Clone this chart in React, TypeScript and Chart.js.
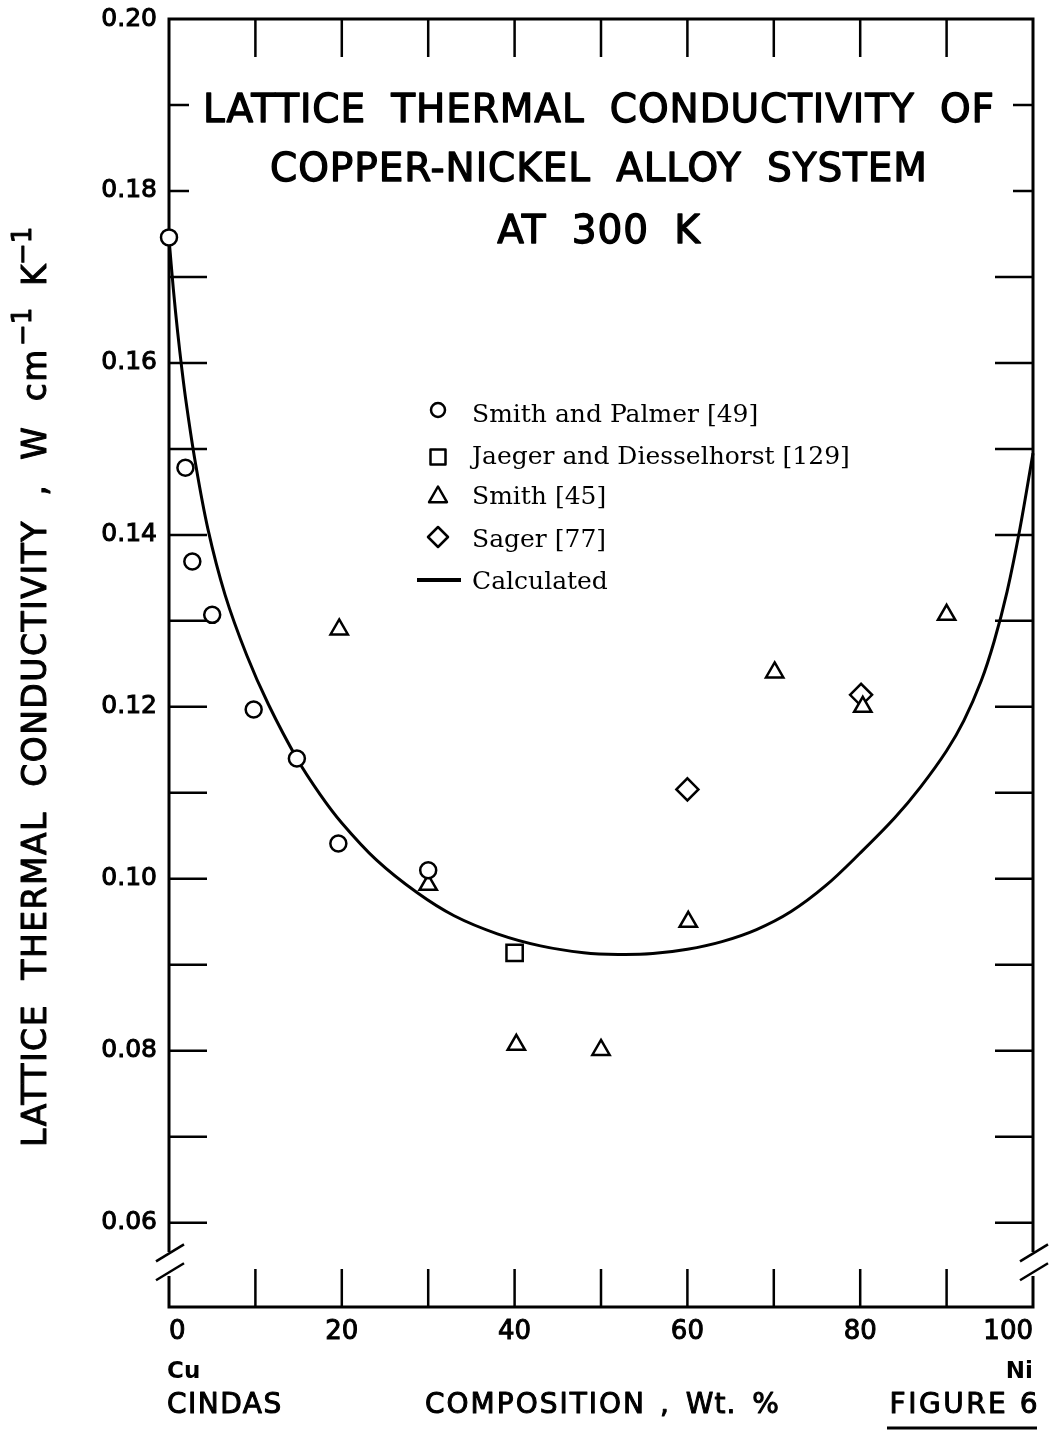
import React, { useEffect, useRef } from 'react';
import { Chart, registerables } from 'chart.js';

Chart.register(...registerables);

// ---------- data ----------
const SMITH_PALMER_X = [0, 1.9, 2.7, 5, 9.8, 14.8, 19.6, 30];
const SMITH_PALMER_Y = [0.1746, 0.1478, 0.1369, 0.1307, 0.1197, 0.114, 0.1041, 0.101];

const JAEGER_X = [40];
const JAEGER_Y = [0.0914];

const SMITH_X = [19.7, 30, 40.2, 50, 60.1, 70.1, 80.3, 90];
const SMITH_Y = [0.129, 0.0993, 0.0807, 0.0801, 0.095, 0.124, 0.12, 0.1307];

const SAGER_X = [60, 80.1];
const SAGER_Y = [0.1104, 0.1214];

const CALC_X = [0, 0.5, 1, 1.5, 2, 3, 4.5, 6.5, 9, 11.5, 14.8, 17.5, 20, 24, 28.7, 33, 38, 43, 48, 52, 56, 60, 64, 68, 72, 76, 80, 84, 87, 90, 92, 94, 95.5, 97, 98.5, 100];
const CALC_Y = [0.1745, 0.1686, 0.1636, 0.1592, 0.1553, 0.1487, 0.1407, 0.133, 0.126, 0.1203, 0.114, 0.1098, 0.1065, 0.1022, 0.0984, 0.0957, 0.0936, 0.0922, 0.0914, 0.0912, 0.0913, 0.0918, 0.0927, 0.0941, 0.0962, 0.0992, 0.103, 0.1071, 0.1107, 0.1149, 0.1184, 0.1230, 0.1276, 0.1334, 0.1408, 0.1495];

const X_LABEL_TICKS = [0, 20, 40, 60, 80, 100];
const X_MARK_TICKS = [10, 20, 30, 40, 50, 60, 70, 80, 90];
const Y_TICKS = [0.06, 0.07, 0.08, 0.09, 0.1, 0.11, 0.12, 0.13, 0.14, 0.15, 0.16, 0.17, 0.18, 0.19, 0.2];
const Y_LABEL_TICKS = [0.06, 0.08, 0.1, 0.12, 0.14, 0.16, 0.18, 0.2];
const Y_MARK_TICKS = [0.06, 0.07, 0.08, 0.09, 0.1, 0.11, 0.12, 0.13, 0.14, 0.15, 0.16, 0.17, 0.18, 0.19];

const TITLE_LINES = ['LATTICE THERMAL CONDUCTIVITY OF', 'COPPER-NICKEL ALLOY SYSTEM', 'AT 300 K'];
const Y_TITLE_MAIN = 'LATTICE THERMAL CONDUCTIVITY , W cm';
const Y_TITLE_K = 'K';
const Y_TITLE_SUP = '\u22121';
const LABEL_CU = 'Cu';
const LABEL_NI = 'Ni';
const LABEL_CINDAS = 'CINDAS';
const LABEL_COMPOSITION = 'COMPOSITION';
const LABEL_UNIT = ', Wt. %';
const LABEL_FIGURE = 'FIGURE 6';

const SERIES_NAMES = ['Smith and Palmer [49]', 'Jaeger and Diesselhorst [129]', 'Smith [45]', 'Sager [77]', 'Calculated'];

const Y_MIN = 0.0502;
const Y_MAX = 0.2;
const BREAK_GAP = [0.0538, 0.0566];
const BREAK_MARKS = [0.0543, 0.0565];

const SANS = '"DejaVu Sans"';
const SERIF = '"DejaVu Serif"';

const pts = (xs: number[], ys: number[]) => xs.map((x, i) => ({ x, y: ys[i] }));

function drawMarker(ctx: CanvasRenderingContext2D, style: string, x: number, y: number, r: number) {
  ctx.beginPath();
  if (style === 'circle') {
    ctx.arc(x, y, r, 0, Math.PI * 2);
  } else if (style === 'rect') {
    ctx.rect(x - r, y - r, 2 * r, 2 * r);
  } else if (style === 'triangle') {
    ctx.moveTo(x, y - r);
    ctx.lineTo(x + r * 1.05, y + r * 0.85);
    ctx.lineTo(x - r * 1.05, y + r * 0.85);
    ctx.closePath();
  } else if (style === 'rectRot') {
    ctx.moveTo(x, y - r);
    ctx.lineTo(x + r, y);
    ctx.lineTo(x, y + r);
    ctx.lineTo(x - r, y);
    ctx.closePath();
  }
  ctx.fillStyle = '#fff';
  ctx.fill();
  ctx.stroke();
}

function boldText(ctx: CanvasRenderingContext2D, t: string, x: number, y: number, w = 0.9) {
  ctx.lineWidth = w;
  ctx.lineJoin = 'round';
  ctx.fillText(t, x, y);
  ctx.strokeText(t, x, y);
}

const framePlugin = {
  id: 'frame',
  beforeDatasetsDraw(chart: any) {
    const { ctx, chartArea } = chart;
    const xs = chart.scales.x;
    const ys = chart.scales.y;
    const { left, right, top, bottom } = chartArea;
    ctx.save();
    ctx.strokeStyle = '#000';
    ctx.lineCap = 'butt';
    // ticks
    ctx.lineWidth = 2.5;
    X_MARK_TICKS.forEach((v) => {
      const px = xs.getPixelForValue(v);
      ctx.beginPath();
      ctx.moveTo(px, top);
      ctx.lineTo(px, top + 38);
      ctx.moveTo(px, bottom);
      ctx.lineTo(px, bottom - 38);
      ctx.stroke();
    });
    Y_MARK_TICKS.forEach((v) => {
      const py = ys.getPixelForValue(v);
      const len = v >= 0.175 ? 20 : 38;
      ctx.beginPath();
      ctx.moveTo(left, py);
      ctx.lineTo(left + len, py);
      ctx.moveTo(right, py);
      ctx.lineTo(right - len, py);
      ctx.stroke();
    });
    // frame
    ctx.lineWidth = 3;
    const gTop = ys.getPixelForValue(BREAK_GAP[1]);
    const gBot = ys.getPixelForValue(BREAK_GAP[0]);
    ctx.beginPath();
    ctx.moveTo(left, gTop);
    ctx.lineTo(left, top);
    ctx.lineTo(right, top);
    ctx.lineTo(right, gTop);
    ctx.moveTo(left, gBot);
    ctx.lineTo(left, bottom);
    ctx.lineTo(right, bottom);
    ctx.lineTo(right, gBot);
    ctx.stroke();
    // break marks
    ctx.lineWidth = 2.5;
    BREAK_MARKS.forEach((v) => {
      const py = ys.getPixelForValue(v);
      [left + 1, right + 1].forEach((cx) => {
        ctx.beginPath();
        ctx.moveTo(cx - 14, py + 8.5);
        ctx.lineTo(cx + 14, py - 8.5);
        ctx.stroke();
      });
    });
    ctx.restore();
  },
  afterDraw(chart: any) {
    const { ctx, chartArea } = chart;
    const { left, right } = chartArea;
    ctx.save();
    ctx.fillStyle = '#000';
    ctx.strokeStyle = '#000';
    const cx = (left + right) / 2 - 2;

    // title
    ctx.font = `39px ${SANS}`;
    ctx.textAlign = 'center';
    ctx.textBaseline = 'alphabetic';
    (ctx as any).wordSpacing = '12px';
    (ctx as any).letterSpacing = '0.9px';
    const baselines = [122, 181, 243];
    TITLE_LINES.forEach((t, i) => boldText(ctx, t, cx, baselines[i], 1.3));
    (ctx as any).wordSpacing = '0px';
    (ctx as any).letterSpacing = '0px';

    // legend
    const styles = ['circle', 'rect', 'triangle', 'rectRot', 'line'];
    const sizes = [7, 7.5, 8.5, 10, 0];
    const rowsY = [415, 457, 497, 540, 582];
    const markY = [410, 457, 495, 537, 580];
    ctx.textAlign = 'left';
    ctx.textBaseline = 'middle';
    ctx.font = `25px ${SERIF}`;
    SERIES_NAMES.forEach((name, i) => {
      ctx.lineWidth = 2.5;
      if (styles[i] === 'line') {
        ctx.lineWidth = 4;
        ctx.beginPath();
        ctx.moveTo(417, markY[i]);
        ctx.lineTo(461, markY[i]);
        ctx.stroke();
      } else {
        drawMarker(ctx, styles[i], 438, markY[i], sizes[i]);
      }
      ctx.fillStyle = '#000';
      ctx.fillText(name, 472, rowsY[i]);
    });

    // y-axis title
    ctx.save();
    ctx.translate(46, 1147);
    ctx.rotate(-Math.PI / 2);
    ctx.textAlign = 'left';
    ctx.textBaseline = 'alphabetic';
    ctx.font = `33px ${SANS}`;
    (ctx as any).letterSpacing = '0px';
    (ctx as any).wordSpacing = '0px';
    const natural = ctx.measureText(Y_TITLE_MAIN).width;
    const nChars = Y_TITLE_MAIN.length;
    const nSpaces = Y_TITLE_MAIN.split(' ').length - 1;
    const target = 799;
    const ls = 1.5;
    const ws = Math.max(0, (target - natural - ls * nChars) / nSpaces);
    (ctx as any).letterSpacing = `${ls}px`;
    (ctx as any).wordSpacing = `${ws}px`;
    boldText(ctx, Y_TITLE_MAIN, 0, 0, 1);
    (ctx as any).letterSpacing = '0px';
    (ctx as any).wordSpacing = '0px';
    ctx.font = `26px ${SANS}`;
    boldText(ctx, Y_TITLE_SUP, target + 2, -15, 1);
    ctx.font = `33px ${SANS}`;
    boldText(ctx, Y_TITLE_K, 861, 0, 1);
    ctx.font = `26px ${SANS}`;
    boldText(ctx, Y_TITLE_SUP, 882, -15, 1);
    ctx.restore();

    // bottom labels
    ctx.textBaseline = 'alphabetic';
    ctx.font = `bold 23px ${SANS}`;
    ctx.textAlign = 'left';
    ctx.fillText(LABEL_CU, 167, 1378);
    ctx.textAlign = 'right';
    ctx.fillText(LABEL_NI, 1033, 1378);

    ctx.font = `28px ${SANS}`;
    ctx.textAlign = 'left';
    (ctx as any).letterSpacing = '1.5px';
    boldText(ctx, LABEL_CINDAS, 167, 1413, 1);
    (ctx as any).letterSpacing = '2px';
    boldText(ctx, LABEL_COMPOSITION, 425, 1413, 1);
    (ctx as any).letterSpacing = '1px';
    (ctx as any).wordSpacing = '6px';
    boldText(ctx, LABEL_UNIT, 660, 1413, 1);
    (ctx as any).wordSpacing = '0px';
    (ctx as any).letterSpacing = '2.5px';
    ctx.textAlign = 'right';
    boldText(ctx, LABEL_FIGURE, 1040, 1413, 1);
    (ctx as any).letterSpacing = '0px';
    ctx.lineWidth = 3;
    ctx.beginPath();
    ctx.moveTo(887, 1428);
    ctx.lineTo(1037, 1428);
    ctx.stroke();

    ctx.restore();
  },
};

export default function App() {
  const ref = useRef<HTMLCanvasElement | null>(null);
  useEffect(() => {
    if (!ref.current) return;
    const markerBase = {
      type: 'scatter' as const,
      showLine: false,
      pointBorderColor: '#000',
      pointBackgroundColor: '#fff',
      pointBorderWidth: 2.5,
      clip: false as const,
      order: 0,
    };
    const chart = new Chart(ref.current, {
      type: 'scatter',
      data: {
        datasets: [
          {
            ...markerBase,
            label: SERIES_NAMES[0],
            data: pts(SMITH_PALMER_X, SMITH_PALMER_Y),
            pointStyle: 'circle',
            pointRadius: 8,
          },
          {
            ...markerBase,
            label: SERIES_NAMES[1],
            data: pts(JAEGER_X, JAEGER_Y),
            pointStyle: 'rect',
            pointRadius: 11.5,
          },
          {
            ...markerBase,
            label: SERIES_NAMES[2],
            data: pts(SMITH_X, SMITH_Y),
            pointStyle: 'triangle',
            pointRadius: 10,
          },
          {
            ...markerBase,
            label: SERIES_NAMES[3],
            data: pts(SAGER_X, SAGER_Y),
            pointStyle: 'rectRot',
            pointRadius: 11,
          },
          {
            type: 'line' as const,
            label: SERIES_NAMES[4],
            data: pts(CALC_X, CALC_Y),
            showLine: true,
            borderColor: '#000',
            borderWidth: 3,
            pointRadius: 0,
            tension: 0.35,
            fill: false,
            clip: false as const,
            order: 10,
          },
        ] as any,
      },
      options: {
        animation: false,
        responsive: false,
        devicePixelRatio: 1,
        layout: { padding: { top: 19, right: 19, left: 0, bottom: 0 } },
        plugins: { legend: { display: false }, tooltip: { enabled: false }, title: { display: false } },
        scales: {
          x: {
            type: 'linear',
            min: 0,
            max: 100,
            afterBuildTicks: (s: any) => {
              s.ticks = X_LABEL_TICKS.map((v) => ({ value: v }));
            },
            afterFit: (s: any) => {
              s.height = 124;
              s.paddingLeft = 0;
              s.paddingRight = 0;
            },
            grid: { display: false, drawTicks: false },
            border: { display: false },
            ticks: {
              color: '#000',
              font: { family: 'DejaVu Sans', size: 26 },
              textStrokeColor: '#000',
              textStrokeWidth: 1,
              padding: 10,
              align: 'inner',
              maxRotation: 0,
              autoSkip: false,
              callback: (v: any) => String(v),
            },
          },
          y: {
            type: 'linear',
            min: Y_MIN,
            max: Y_MAX,
            afterBuildTicks: (s: any) => {
              s.ticks = Y_TICKS.map((v) => ({ value: v }));
            },
            afterFit: (s: any) => {
              s.width = 169;
              s.paddingTop = 0;
              s.paddingBottom = 0;
            },
            grid: { display: false, drawTicks: false },
            border: { display: false },
            ticks: {
              color: '#000',
              font: { family: 'DejaVu Sans', size: 25 },
              textStrokeColor: '#000',
              textStrokeWidth: 1,
              padding: 12,
              autoSkip: false,
              callback: (v: any) =>
                Y_LABEL_TICKS.some((t) => Math.abs(t - Number(v)) < 1e-6) ? Number(v).toFixed(2) : '',
            },
          },
        },
      } as any,
      plugins: [framePlugin],
    });
    return () => chart.destroy();
  }, []);

  return (
    <div style={{ position: 'absolute', left: 0, top: 0, width: 1052, height: 1431, background: '#fff' }}>
      <canvas ref={ref} width={1052} height={1431} style={{ display: 'block', width: 1052, height: 1431 }} />
    </div>
  );
}
